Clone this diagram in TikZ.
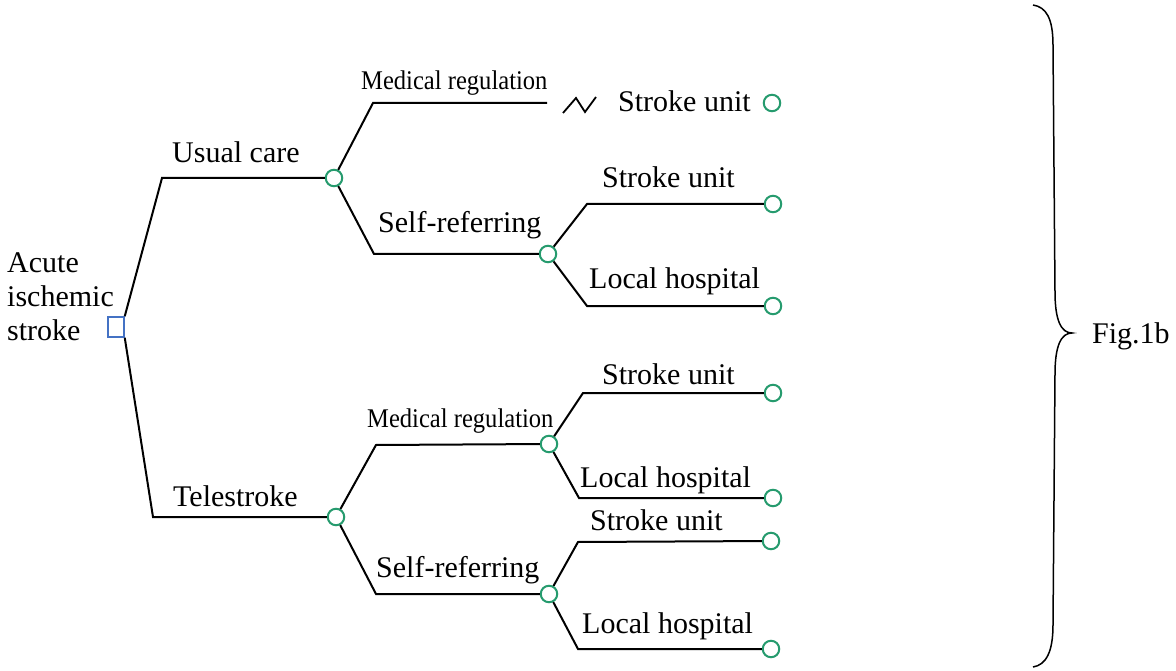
\documentclass[tikz,border=0pt]{standalone}
\usepackage{fontspec}
\setmainfont{Liberation Serif}
\definecolor{chgreen}{RGB}{38,155,110}
\definecolor{decblue}{RGB}{68,114,196}
\begin{document}
\begin{tikzpicture}[x=1pt,y=-1pt,
  chance/.style={circle,draw=chgreen,line width=2pt,minimum size=16.5pt,inner sep=0pt,fill=white},
  decision/.style={rectangle,draw=decblue,line width=1.5pt,minimum width=16pt,minimum height=20pt,inner sep=0pt},
  branch/.style={draw=black,line width=2pt},
  lbl/.style={anchor=base west,inner sep=0pt,font=\fontsize{30}{34}\selectfont},
  mrlbl/.style={anchor=base west,inner sep=0pt,font=\fontsize{27}{30}\selectfont}]
\useasboundingbox (0,0) rectangle (1176,671);

% decision node
\node[decision] (root) at (116,327) {};
\node[lbl,align=left,anchor=north west] (rootlbl) at (7,252) {Acute\\[0.4pt]ischemic\\[0.4pt]stroke};

% chance nodes
\node[chance] (uc) at (334,178) {};
\node[chance] (te) at (336,517) {};
\node[chance] (usr) at (548,254) {};
\node[chance] (tmr) at (549,444) {};
\node[chance] (tsr) at (549,594) {};
\node[chance] (e1) at (772,103) {};
\node[chance] (e2) at (773,204) {};
\node[chance] (e3) at (773,306) {};
\node[chance] (e4) at (773,393) {};
\node[chance] (e5) at (773,498) {};
\node[chance] (e6) at (771,541) {};
\node[chance] (e7) at (771,649) {};

% knees
\coordinate (k0a) at (162,178);
\coordinate (k0b) at (153,517);
\coordinate (k1a) at (373,103);
\coordinate (k1end) at (547,103);
\coordinate (k1b) at (374,254);
\coordinate (k2a) at (376,445);
\coordinate (k2b) at (376,594);
\coordinate (k3a) at (587,204);
\coordinate (k3b) at (587,306);
\coordinate (k4a) at (583,393);
\coordinate (k4b) at (579,498);
\coordinate (k5a) at (578,542);
\coordinate (k5b) at (578,649);

% connectors
\draw[branch] (root.north east) -- (k0a) -- (uc);
\draw[branch] (root.south east) -- (k0b) -- (te);
\draw[branch] (uc) -- (k1a) -- (k1end);
\draw[branch] (uc) -- (k1b) -- (usr);
\draw[branch] (te) -- (k2a) -- (tmr);
\draw[branch] (te) -- (k2b) -- (tsr);
\draw[branch] (usr) -- (k3a) -- (e2);
\draw[branch] (usr) -- (k3b) -- (e3);
\draw[branch] (tmr) -- (k4a) -- (e4);
\draw[branch] (tmr) -- (k4b) -- (e5);
\draw[branch] (tsr) -- (k5a) -- (e6);
\draw[branch] (tsr) -- (k5b) -- (e7);

% zigzag
\coordinate (z1) at (563,113);
\coordinate (z2) at (576,98);
\coordinate (z3) at (585,112);
\coordinate (z4) at (596,97);
\draw[line width=1.8pt,line join=miter] (z1) -- (z2) -- (z3) -- (z4);

% labels
\node[lbl] (l1) at (172,163) {Usual care};
\node[lbl] (l2) at (173,506) {Telestroke};
\node[mrlbl] (l3) at (361,90) {\scalebox{0.91}[1]{Medical regulation}};
\node[mrlbl] (l4) at (367,427) {\scalebox{0.91}[1]{Medical regulation}};
\node[lbl] (l5) at (378,233) {Self-referring};
\node[lbl] (l6) at (376,577) {Self-referring};
\node[lbl] (l7) at (618,112) {Stroke unit};
\node[lbl] (l8) at (602,188) {Stroke unit};
\node[lbl] (l9) at (589,288) {Local hospital};
\node[lbl] (l10) at (602,384) {Stroke unit};
\node[lbl] (l11) at (580,487) {Local hospital};
\node[lbl] (l12) at (590,530) {Stroke unit};
\node[lbl] (l13) at (582,633) {Local hospital};

% brace
\draw[line width=1.5pt] (1033,5) .. controls (1046,7) and (1053,18) .. (1053,45)
  -- (1055,292) .. controls (1055,320) and (1061,333) .. (1072,333)
  .. controls (1061,333) and (1055,346) .. (1055,374)
  -- (1053,625) .. controls (1053,652) and (1046,665) .. (1033,667);
\node[lbl] (fig) at (1092,343) {Fig.1b};
\end{tikzpicture}
\end{document}
